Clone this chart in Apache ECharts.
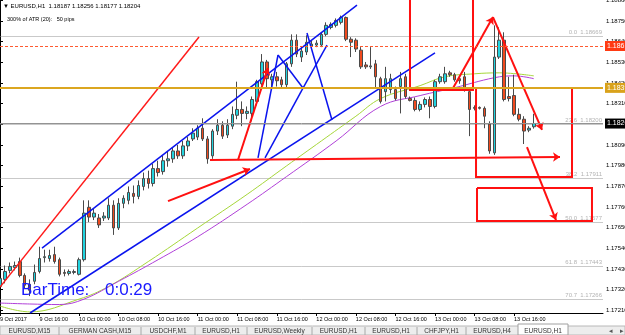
<!DOCTYPE html>
<html>
<head>
<meta charset="utf-8">
<title>EURUSD,H1</title>
<script src="https://cdn.jsdelivr.net/npm/echarts@6.0.0/dist/echarts.min.js"></script>
<style>
  html, body { margin: 0; padding: 0; background: #fff; }
  #chart { width: 625px; height: 335px; }
</style>
</head>
<body>
<div id="chart"></div>
<script>
// time axis: one label every 8 H1 bars, first slot = 9 Oct 08:00
const timeLabels = ['9 Oct 2017', '9 Oct 16:00', '10 Oct 00:00', '10 Oct 08:00', '10 Oct 16:00',
  '11 Oct 00:00', '11 Oct 08:00', '11 Oct 16:00', '12 Oct 00:00', '12 Oct 08:00', '12 Oct 16:00',
  '13 Oct 00:00', '13 Oct 08:00', '13 Oct 16:00']
const slotCount = 123 // bars + empty space on the right

const priceTicks = [1.18860, 1.18750, 1.18640, 1.18530, 1.18420, 1.18310, 1.18200, 1.18090,
  1.17980, 1.17870, 1.17760, 1.17650, 1.17540, 1.17430, 1.17320, 1.17210]

const opens = [1.17337, 1.17374, 1.17422, 1.17437, 1.17469, 1.17395, 1.17348, 1.17364, 1.17416, 1.17490,
  1.17485, 1.17506, 1.17479, 1.17411, 1.17406, 1.17411, 1.17401, 1.17479, 1.17758, 1.17706,
  1.17701, 1.17701, 1.17701, 1.17769, 1.17648, 1.17779, 1.17795, 1.17832, 1.17816, 1.17869,
  1.17911, 1.17885, 1.17964, 1.17948, 1.18006, 1.18016, 1.18058, 1.18032, 1.18085, 1.18122,
  1.18132, 1.18179, 1.18122, 1.18032, 1.18164, 1.18195, 1.18143, 1.18190, 1.18248, 1.18279,
  1.18258, 1.18258, 1.18322, 1.18416, 1.18532, 1.18437, 1.18453, 1.18437, 1.18411, 1.18522,
  1.18648, 1.18558, 1.18585, 1.18616, 1.18622, 1.18622, 1.18679, 1.18716, 1.18727, 1.18743,
  1.18769, 1.18653, 1.18648, 1.18595, 1.18516, 1.18506, 1.18522, 1.18443, 1.18374, 1.18385,
  1.18385, 1.18401, 1.18453, 1.18337, 1.18327, 1.18279, 1.18306, 1.18332, 1.18295, 1.18427,
  1.18427, 1.18474, 1.18464, 1.18443, 1.18453, 1.18374, 1.18290, 1.18290, 1.18285, 1.18201,
  1.18048, 1.18558, 1.18648, 1.18348, 1.18353, 1.18253, 1.18227, 1.18169, 1.18187]
const closes = [1.17379, 1.17416, 1.17443, 1.17448, 1.17395, 1.17343, 1.17316, 1.17411, 1.17485, 1.17495,
  1.17501, 1.17469, 1.17401, 1.17406, 1.17416, 1.17416, 1.17479, 1.17727, 1.17706, 1.17727,
  1.17664, 1.17711, 1.17769, 1.17648, 1.17779, 1.17806, 1.17837, 1.17816, 1.17874, 1.17911,
  1.17885, 1.17964, 1.17943, 1.18006, 1.18016, 1.18058, 1.18032, 1.18085, 1.18111, 1.18153,
  1.18179, 1.18122, 1.18016, 1.18164, 1.18195, 1.18137, 1.18195, 1.18253, 1.18279, 1.18258,
  1.18269, 1.18332, 1.18427, 1.18532, 1.18443, 1.18453, 1.18432, 1.18411, 1.18522, 1.18648,
  1.18574, 1.18590, 1.18637, 1.18627, 1.18632, 1.18679, 1.18727, 1.18732, 1.18753, 1.18769,
  1.18653, 1.18637, 1.18601, 1.18506, 1.18506, 1.18511, 1.18453, 1.18322, 1.18443, 1.18443,
  1.18337, 1.18443, 1.18348, 1.18327, 1.18279, 1.18306, 1.18332, 1.18295, 1.18427, 1.18453,
  1.18469, 1.18464, 1.18437, 1.18432, 1.18385, 1.18279, 1.18285, 1.18285, 1.18243, 1.18058,
  1.18558, 1.18648, 1.18332, 1.18337, 1.18253, 1.18227, 1.18164, 1.18179, 1.18204]
const lows = [1.17311, 1.17353, 1.17406, 1.17422, 1.17385, 1.17327, 1.17285, 1.17348, 1.17406, 1.17464,
  1.17469, 1.17458, 1.17390, 1.17390, 1.17395, 1.17401, 1.17395, 1.17469, 1.17679, 1.17690,
  1.17648, 1.17685, 1.17690, 1.17611, 1.17637, 1.17753, 1.17774, 1.17779, 1.17801, 1.17848,
  1.17858, 1.17869, 1.17922, 1.17932, 1.17974, 1.17995, 1.18016, 1.18016, 1.18058, 1.18111,
  1.18116, 1.18111, 1.17990, 1.18016, 1.18143, 1.18122, 1.18127, 1.18174, 1.18227, 1.18190,
  1.18227, 1.18216, 1.18301, 1.18406, 1.18390, 1.18385, 1.18401, 1.18390, 1.18390, 1.18506,
  1.18558, 1.18532, 1.18569, 1.18601, 1.18611, 1.18611, 1.18669, 1.18706, 1.18716, 1.18732,
  1.18643, 1.18558, 1.18585, 1.18495, 1.18495, 1.18495, 1.18390, 1.18311, 1.18322, 1.18364,
  1.18327, 1.18258, 1.18337, 1.18322, 1.18269, 1.18269, 1.18290, 1.18232, 1.18285, 1.18416,
  1.18416, 1.18453, 1.18427, 1.18416, 1.18374, 1.18137, 1.18274, 1.18279, 1.18179, 1.18043,
  1.18037, 1.18548, 1.18322, 1.18322, 1.18243, 1.18216, 1.18095, 1.18158, 1.18177]
const highs = [1.17427, 1.17448, 1.17464, 1.17469, 1.17490, 1.17406, 1.17374, 1.17453, 1.17548, 1.17532,
  1.17532, 1.17548, 1.17490, 1.17427, 1.17427, 1.17427, 1.17490, 1.17795, 1.17795, 1.17753,
  1.17722, 1.17732, 1.17806, 1.17795, 1.17806, 1.17822, 1.17869, 1.17874, 1.17901, 1.17943,
  1.17953, 1.17990, 1.18006, 1.18032, 1.18058, 1.18079, 1.18090, 1.18111, 1.18132, 1.18179,
  1.18195, 1.18232, 1.18137, 1.18174, 1.18227, 1.18216, 1.18227, 1.18295, 1.18427, 1.18322,
  1.18295, 1.18348, 1.18437, 1.18574, 1.18543, 1.18469, 1.18479, 1.18453, 1.18532, 1.18679,
  1.18679, 1.18611, 1.18674, 1.18648, 1.18648, 1.18690, 1.18743, 1.18743, 1.18764, 1.18779,
  1.18774, 1.18664, 1.18658, 1.18611, 1.18532, 1.18611, 1.18543, 1.18453, 1.18506, 1.18469,
  1.18401, 1.18479, 1.18469, 1.18348, 1.18343, 1.18322, 1.18343, 1.18348, 1.18437, 1.18469,
  1.18506, 1.18485, 1.18474, 1.18458, 1.18479, 1.18385, 1.18301, 1.18295, 1.18295, 1.18216,
  1.18727, 1.18716, 1.18690, 1.18453, 1.18464, 1.18285, 1.18243, 1.18190, 1.18256]

// moving averages: [bar, price]
const maGreen = [[0, 1.17232], [6, 1.17201], [16, 1.17269], [22, 1.17337], [30, 1.17469], [40, 1.17648],
  [50, 1.17827], [58, 1.17979], [65, 1.18111], [72, 1.18243], [77, 1.18337], [85, 1.18406],
  [90, 1.18453], [96, 1.18469], [101, 1.18474], [108, 1.18458]]
const maPurple = [[0, 1.17248], [6, 1.17243], [12, 1.17240], [17, 1.17269], [24, 1.17364], [32, 1.17479],
  [40, 1.17601], [50, 1.17774], [58, 1.17922], [68, 1.18111], [77, 1.18295], [85, 1.18353],
  [92, 1.18395], [100, 1.18448], [104, 1.18458], [108, 1.18443]]

// fibonacci levels
const fibNames = ['0.0', '23.6', '38.2', '50.0', '61.8', '70.7']
const fibPrices = [1.18669, 1.18200, 1.17911, 1.17677, 1.17443, 1.17266]

const askPrice = 1.18617
const levelPrice = 1.18394
const bidPrice = 1.18204

// hand drawn objects, [bar, price]
const redTrend = [[[0, 1.17333], [40.26, 1.18665]]]
const blueLines = [
  [[8.50, 1.17541], [72.23, 1.18835]],
  [[6.07, 1.17195], [88.01, 1.18580]],
  [[52.20, 1.18021], [56.25, 1.18569]],
  [[56.25, 1.18569], [61.30, 1.18393]],
  [[53.62, 1.18021], [61.30, 1.18393]],
  [[61.30, 1.18393], [66.16, 1.18622]],
  [[62.11, 1.18686], [67.17, 1.18223]]
]
const redArrows = [
  [[33.99, 1.17791], [50.58, 1.17962]],
  [[42.49, 1.18010], [113.30, 1.18026]],
  [[48.15, 1.18010], [54.22, 1.18500]],
  [[91.45, 1.18383], [99.74, 1.18771]],
  [[99.74, 1.18771], [109.66, 1.18170]],
  [[106.62, 1.18079], [112.49, 1.17690]]
]
const redBoxes = [
  [[82.95, 1.18862], [82.95, 1.18383], [95.70, 1.18383], [95.70, 1.18862]],
  [[96.31, 1.18393], [115.73, 1.18393], [115.73, 1.17919], [96.31, 1.17919], [96.31, 1.18393]],
  [[96.51, 1.17861], [119.77, 1.17861], [119.77, 1.17685], [96.51, 1.17685], [96.51, 1.17861]]
]

const tabNames = ['EURUSD,M15', 'GERMAN CASH,M15', 'USDCHF,M1', 'EURUSD,H1', 'EURUSD,Weekly',
  'EURUSD,H1', 'EURUSD,H1', 'CHFJPY,H1', 'EURUSD,H4', 'EURUSD,H1']
const tabEdges = [0, 59, 141, 195, 247, 312, 365, 417, 466, 518, 568]

const FONT = '"Liberation Sans", Arial, sans-serif'

const categories = []
for (let i = 0; i < slotCount; i++) categories.push(String(i))
const candles = opens.map((o, i) => [o, closes[i], lows[i], highs[i]])
const lastSlot = slotCount - 1

const showTick = (index) => index % 8 === 0 && index / 8 < timeLabels.length

// horizontal levels drawn across the whole chart width
const fibLines = fibPrices.map((p, i) => ({
  coords: [[0, p], [lastSlot, p]],
  lineStyle: { color: '#939393', width: 1 },
  label: {
    show: true,
    position: 'insideEndTop',
    distance: 1,
    formatter: fibNames[i] + '  ' + p.toFixed(5),
    color: '#666',
    fontSize: 6,
    fontFamily: FONT
  }
}))

function badge(price, bg, line) {
  return {
    coords: [[0, price], [lastSlot, price]],
    lineStyle: line,
    label: {
      show: true,
      position: 'end',
      distance: 2,
      formatter: price.toFixed(5),
      color: '#fff',
      backgroundColor: bg,
      padding: [2, 4, 1, 2],
      fontSize: 7,
      fontFamily: FONT
    }
  }
}

const graphics = [
  { type: 'text', x: 3, y: 6, style: { text: '▼ EURUSD,H1  1.18187 1.18256 1.18177 1.18204', fontSize: 6, fontFamily: FONT, fill: '#000', verticalAlign: 'middle' } },
  { type: 'text', x: 7, y: 19, style: { text: '300% of ATR (20):   50 pips', fontSize: 5.5, fontFamily: FONT, fill: '#000', verticalAlign: 'middle' } },
  { type: 'text', x: 21, y: 290, z: 10, style: { text: 'BarTime:', fontSize: 17, fontFamily: FONT, fill: '#1a1aff', verticalAlign: 'middle' } },
  { type: 'text', x: 105, y: 290, z: 10, style: { text: '0:0:29', fontSize: 17, fontFamily: FONT, fill: '#1a1aff', verticalAlign: 'middle' } },
  // tab bar
  { type: 'rect', shape: { x: 0, y: 326, width: 625, height: 9 }, style: { fill: '#ededed', stroke: '#b8b8b8', lineWidth: 1 } },
  { type: 'rect', shape: { x: 518, y: 324, width: 50, height: 11 }, style: { fill: '#fff', stroke: '#a0a0a0', lineWidth: 1 } },
  { type: 'text', x: 609, y: 331, style: { text: '◂', fontSize: 7, fill: '#555', verticalAlign: 'middle' } },
  { type: 'text', x: 620, y: 331, style: { text: '▸', fontSize: 7, fill: '#555', verticalAlign: 'middle' } }
]
tabNames.forEach((name, i) => {
  const x0 = tabEdges[i]
  const x1 = tabEdges[i + 1]
  if (i > 0 && i < tabNames.length - 1) {
    graphics.push({ type: 'line', shape: { x1: x0, y1: 327, x2: x0, y2: 335 }, style: { stroke: '#a8a8a8', lineWidth: 1 } })
  }
  graphics.push({
    type: 'text', x: (x0 + x1) / 2, y: 331,
    style: { text: name, fontSize: 6.5, fontFamily: FONT, fill: '#333', align: 'center', verticalAlign: 'middle' }
  })
})

const chart = echarts.init(document.getElementById('chart'), null, { renderer: 'canvas' })
chart.setOption({
  animation: false,
  backgroundColor: '#fff',
  grid: { left: 0, right: 22, top: 0, bottom: 22, outerBoundsMode: 'none' },
  xAxis: [
    {
      type: 'category',
      data: categories,
      boundaryGap: false,
      axisLine: { lineStyle: { color: '#000', width: 1 } },
      axisTick: { show: true, interval: showTick, length: 3, lineStyle: { color: '#000' } },
      axisLabel: {
        interval: showTick,
        formatter: (v, index) => timeLabels[index / 8],
        align: 'left',
        margin: 3,
        fontSize: 5.5,
        fontFamily: FONT,
        color: '#000'
      },
      splitLine: { show: false }
    },
    { type: 'value', min: 0, max: lastSlot, show: false }
  ],
  yAxis: {
    type: 'value',
    position: 'right',
    min: 1.17195,
    max: 1.18862,
    axisLine: { show: true, lineStyle: { color: '#000', width: 1 } },
    axisTick: { show: true, length: 3, customValues: priceTicks, lineStyle: { color: '#000' } },
    axisLabel: {
      customValues: priceTicks,
      formatter: (v) => v.toFixed(5),
      margin: 3,
      fontSize: 6,
      fontFamily: FONT,
      color: '#000'
    },
    splitLine: { show: false }
  },
  series: [
    {
      type: 'lines', coordinateSystem: 'cartesian2d', xAxisIndex: 1, silent: true, z: 1,
      data: fibLines
    },
    {
      type: 'candlestick',
      data: candles,
      barWidth: 3,
      z: 3,
      itemStyle: {
        color: '#22d3df',
        color0: '#f04a1e',
        borderColor: '#4a4a4a',
        borderColor0: '#4a4a4a',
        borderColorDoji: '#4a4a4a',
        borderWidth: 1
      }
    },
    {
      type: 'line', xAxisIndex: 1, data: maGreen, smooth: 0.4, symbol: 'none', z: 2,
      lineStyle: { color: '#a6d63a', width: 1 }
    },
    {
      type: 'line', xAxisIndex: 1, data: maPurple, smooth: 0.4, symbol: 'none', z: 2,
      lineStyle: { color: '#b040d8', width: 1 }
    },
    {
      type: 'lines', coordinateSystem: 'cartesian2d', xAxisIndex: 1, silent: true, z: 4,
      data: redTrend.map((c) => ({ coords: c })),
      lineStyle: { color: '#ff1a1a', width: 1.5, opacity: 1 }
    },
    {
      type: 'lines', coordinateSystem: 'cartesian2d', xAxisIndex: 1, silent: true, z: 4,
      data: blueLines.map((c) => ({ coords: c })),
      lineStyle: { color: '#0a14ee', width: 1.5, opacity: 1 }
    },
    {
      type: 'lines', coordinateSystem: 'cartesian2d', xAxisIndex: 1, silent: true, polyline: true, z: 4,
      data: redBoxes.map((c) => ({ coords: c })),
      lineStyle: { color: '#ff1010', width: 2, opacity: 1 }
    },
    {
      type: 'lines', coordinateSystem: 'cartesian2d', xAxisIndex: 1, silent: true, z: 4,
      symbol: ['none', 'arrow'], symbolSize: 7,
      data: redArrows.map((c) => ({ coords: c })),
      lineStyle: { color: '#ff1010', width: 2, opacity: 1 }
    },
    {
      // price badges on the right axis
      type: 'lines', coordinateSystem: 'cartesian2d', xAxisIndex: 1, silent: true, z: 5, clip: false,
      data: [
        badge(bidPrice, '#000', { color: '#939393', width: 1, opacity: 1 }),
        badge(levelPrice, '#d9a21b', { color: '#dba620', width: 2, opacity: 1 }),
        badge(askPrice, '#ff3a12', { color: '#ff5a30', width: 1, type: [3, 2], opacity: 1 })
      ]
    }
  ],
  graphic: graphics
})
</script>
</body>
</html>
